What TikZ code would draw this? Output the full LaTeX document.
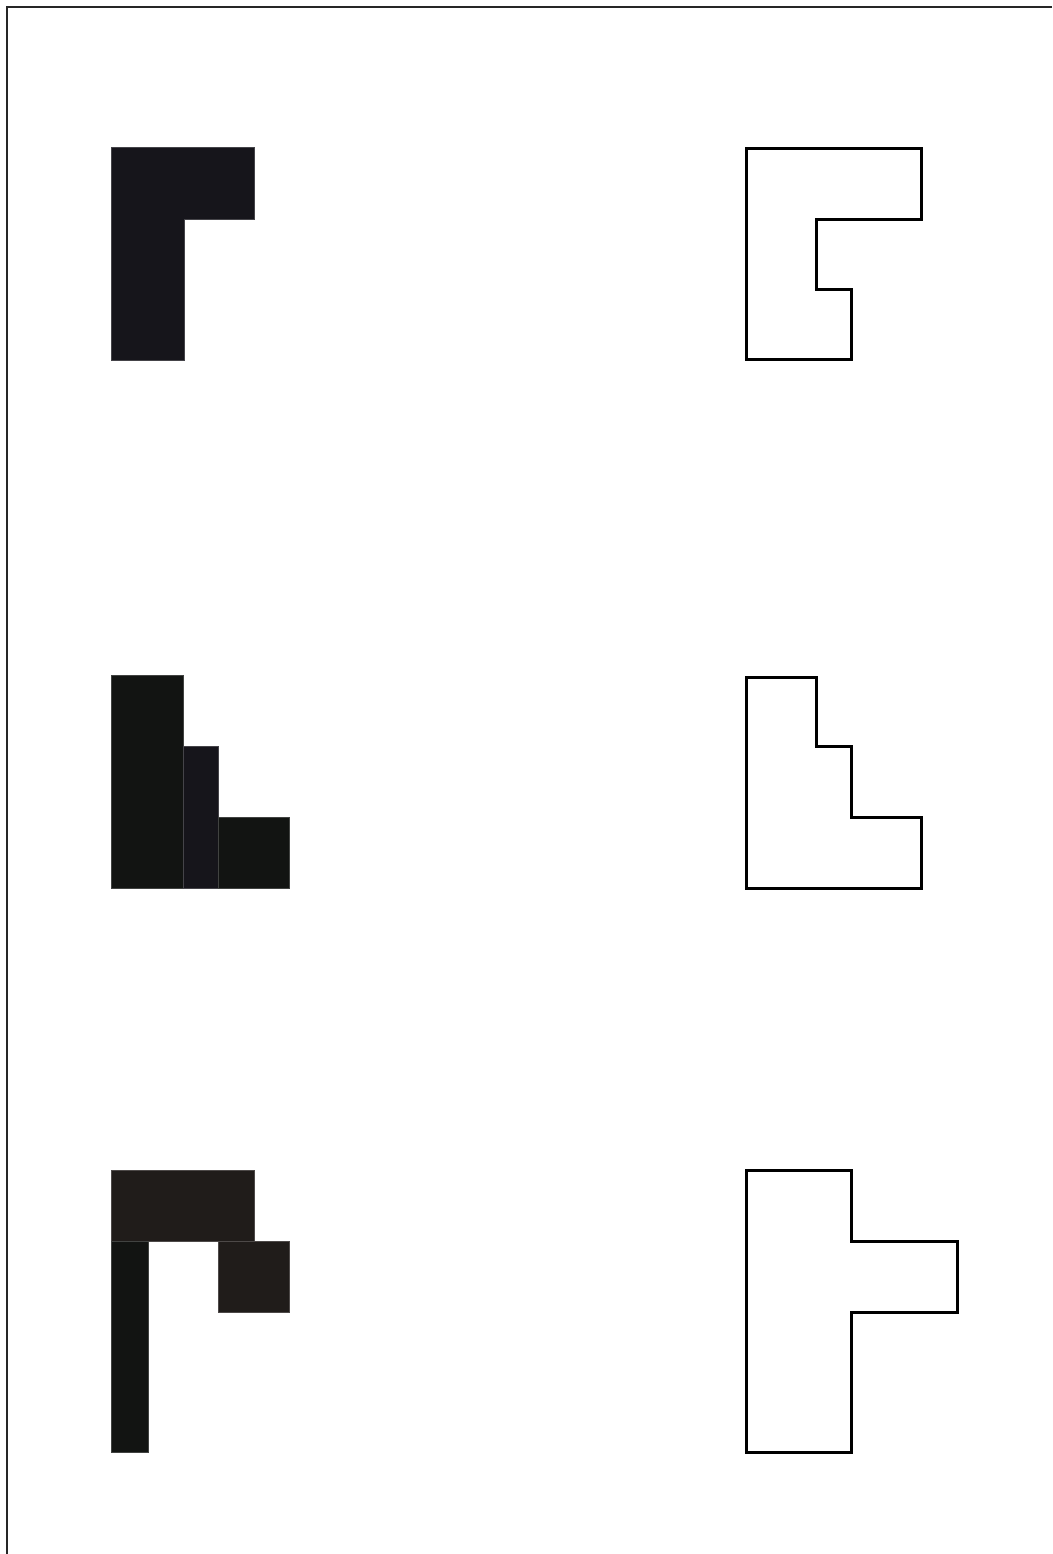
\documentclass[tikz,border=0pt]{standalone}
\usepackage{tikz}
\definecolor{blockInk}{HTML}{16151B}
\definecolor{blockDark}{HTML}{121412}
\definecolor{blockBrown}{HTML}{201C1A}
\tikzset{
myFrame/.style={
	draw=black!85, line width=0.2mm
}
, myOutline/.style={
	draw=black, line width=0.3mm, fill=white,
	line join=miter
}
, myBlock/.style={
	fill=#1, draw=#1!80!white, line width=0.05mm
}
}

\begin{document}
\begin{tikzpicture}[x=0.1mm,y=-0.1mm]
	\useasboundingbox (0,0) rectangle (1052,1554);
	% frame
	\draw[myFrame] (1052,7) -- (7,7) -- (7,1554);

	% first row
	\path[myBlock=blockInk] (111,147) -- (254,147) -- (254,219) -- (184,219)
		-- (184,360) -- (111,360) -- cycle;
	\draw[myOutline] (746,148) -- (921,148) -- (921,219) -- (816,219)
		-- (816,289) -- (851,289) -- (851,359) -- (746,359) -- cycle;

	% second row
	\path[myBlock=blockDark] (111,675) rectangle (183,888);
	\path[myBlock=blockInk] (183,746) rectangle (218,888);
	\path[myBlock=blockDark] (218,817) rectangle (289,888);
	\draw[myOutline] (746,677) -- (816,677) -- (816,746) -- (851,746)
		-- (851,817) -- (921,817) -- (921,888) -- (746,888) -- cycle;

	% third row
	\path[myBlock=blockBrown] (111,1170) rectangle (254,1241);
	\path[myBlock=blockDark] (111,1241) rectangle (148,1452);
	\path[myBlock=blockBrown] (218,1241) rectangle (289,1312);
	\draw[myOutline] (746,1170) -- (851,1170) -- (851,1241) -- (957,1241)
		-- (957,1312) -- (851,1312) -- (851,1452) -- (746,1452) -- cycle;
\end{tikzpicture}
\end{document}
